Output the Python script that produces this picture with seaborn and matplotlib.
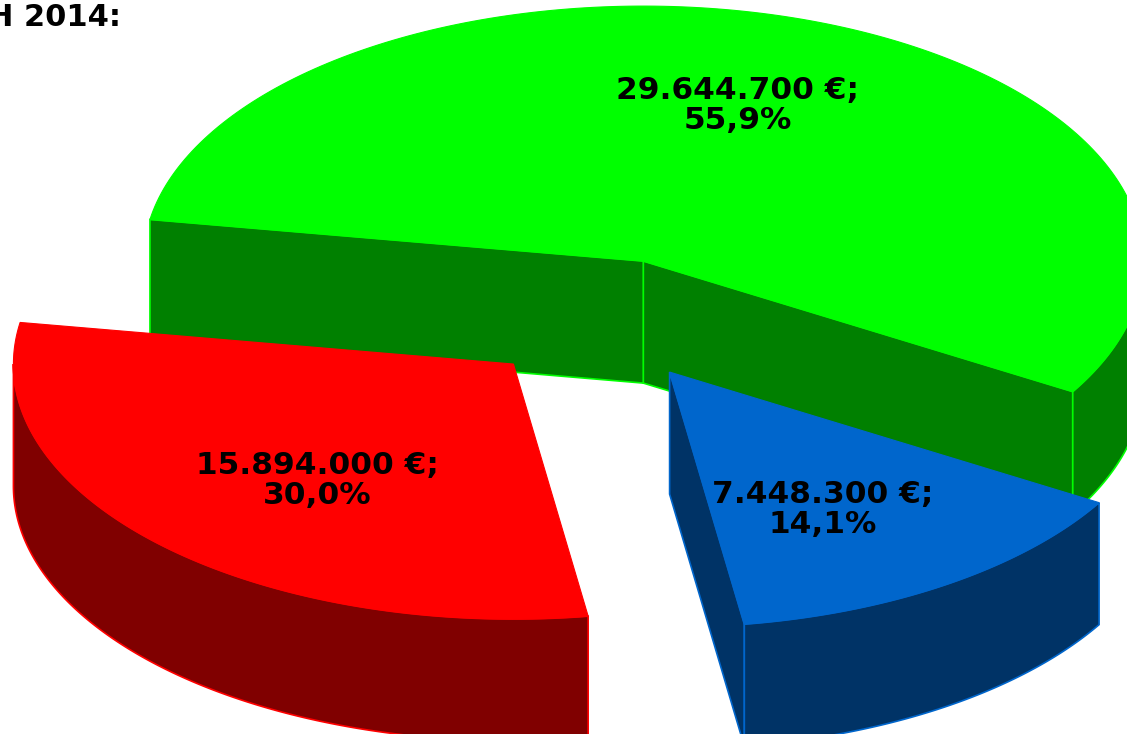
import numpy as np
import seaborn as sns
import matplotlib.pyplot as plt
from matplotlib.patches import Polygon

sns.set_theme(style="white")
plt.rcParams['font.family'] = ['DejaVu Sans']

# data
names = ["Green", "Red", "Blue"]
values = [29644700, 15894000, 7448300]
top_colors = ["#00FF00", "#FF0000", "#0066CC"]
side_colors = ["#008000", "#800000", "#003366"]
title = "H 2014:"

# layout of the 3d pie (pixels)
cx, cy = 601, 320      # pie centre
R, Rk = 500, 255       # horizontal / vertical radius
depth = 122            # thickness
explode = 123          # explode distance
start = -30.8          # start angle in degrees (counterclockwise)

total = float(sum(values))
fracs = [v / total for v in values]


def pt(ox, oy, a, r=1.0):
    t = np.radians(a)
    return ox + R * r * np.cos(t), oy - Rk * r * np.sin(t)


def arc(ox, oy, a0, a1, n=200):
    t = np.radians(np.linspace(a0, a1, n))
    return np.column_stack([ox + R * np.cos(t), oy - Rk * np.sin(t)])


fig = plt.figure(figsize=(11.27, 7.34), dpi=100)
ax = fig.add_axes([0, 0, 1, 1])
ax.set_xlim(0, 1127)
ax.set_ylim(734, 0)
ax.axis('off')

# slice angles
angles = []
a = start
for f in fracs:
    angles.append((a, a + f * 360))
    a += f * 360

# draw back slices first
order = sorted(range(len(values)),
               key=lambda i: np.sin(np.radians((angles[i][0] + angles[i][1]) / 2)),
               reverse=True)

for i in order:
    a0, a1 = angles[i]
    mid = (a0 + a1) / 2
    ox, oy = pt(cx, cy, mid, explode / R)
    top_c, side_c = top_colors[i], side_colors[i]
    z = 2 + list(order).index(i) * 3

    # radial faces
    faces = []
    if np.cos(np.radians(a0)) > 0:
        faces.append(a0)
    if np.cos(np.radians(a1)) < 0:
        faces.append(a1)
    for fa in faces:
        px, py = pt(ox, oy, fa)
        poly = [(ox, oy), (px, py), (px, py + depth), (ox, oy + depth)]
        ax.add_patch(Polygon(poly, closed=True, facecolor=side_c,
                             edgecolor=top_c, lw=1.2, zorder=z))

    # outer wall on the front half
    for lo, hi in [(-180, 0), (180, 360), (540, 720)]:
        s, e = max(a0, lo), min(a1, hi)
        if e > s:
            up = arc(ox, oy, s, e)
            down = up[::-1] + [0, depth]
            ax.add_patch(Polygon(np.vstack([up, down]), closed=True,
                                 facecolor=side_c, edgecolor=top_c,
                                 lw=1.2, zorder=z + 1))

    # top
    top = np.vstack([[ox, oy], arc(ox, oy, a0, a1)])
    ax.add_patch(Polygon(top, closed=True, facecolor=top_c,
                         edgecolor=top_c, lw=0.8, zorder=z + 2))

    # label
    t = np.radians(mid)
    lx = ox + R * 0.55 * np.cos(t)
    ly = oy - Rk * 0.65 * np.sin(t)
    money = f"{values[i]:,.0f}".replace(",", ".")
    pct = f"{fracs[i] * 100:.1f}".replace(".", ",")
    ax.text(lx, ly, f"{money} €;\n{pct}%", ha='center', va='center',
            fontsize=22.5, fontweight='bold', color='black',
            linespacing=1.05, zorder=20)

ax.text(-12, 3, title, ha='left', va='top', fontsize=22,
        fontweight='bold', color='black', zorder=20)

fig.savefig("out.png", dpi=100)
